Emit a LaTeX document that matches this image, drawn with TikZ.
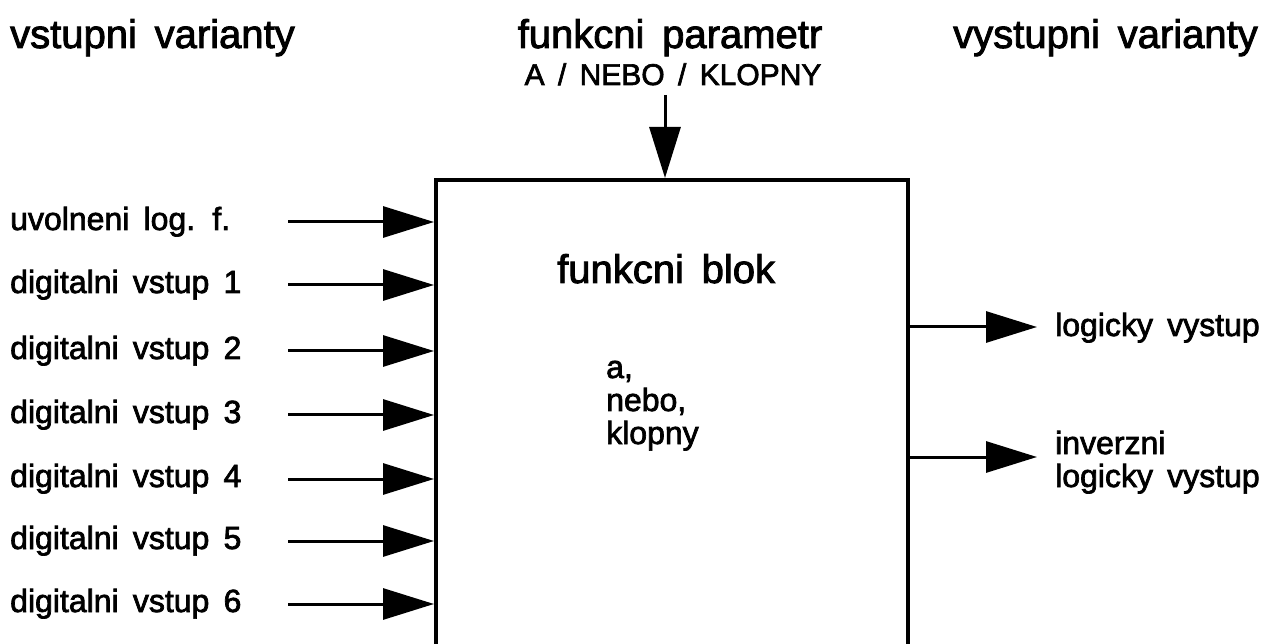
\documentclass[tikz,border=0pt]{standalone}
\usepackage{fontspec}
\setmainfont{Liberation Sans}[WordSpace=1.6, BoldFont=Liberation Sans, BoldFeatures={FakeBold=2.2}]
\usetikzlibrary{arrows.meta,positioning}

\tikzset{
	blok/.style={draw, line width=4pt, minimum width=472pt, minimum height=480pt, inner sep=0pt},
	titel/.style={inner sep=0pt, font=\fontsize{40}{48}\selectfont\bfseries},
	popis/.style={inner sep=0pt, font=\fontsize{30}{36}\selectfont\bfseries},
	vstup/.style={inner sep=0pt, anchor=base west, font=\fontsize{32}{33}\selectfont\bfseries, align=left},
	sipka/.style={line width=3pt, -{Triangle[length=51pt, width=31pt]}}
}

\begin{document}
\begin{tikzpicture}[x=1pt, y=-1pt]
			%%%%% START %%%%%
			
			\useasboundingbox (0, 0) rectangle (1270, 644);
			
			\node[blok] (blok) at (672, 420) {};
			
			\node[titel, anchor=base west] (vstupy) at (10, 48) {vstupni varianty};
			\node[titel, anchor=base] (param) at (670, 48) {funkcni parametr};
			\node[popis, anchor=base] (volba) at (673, 85) {A / NEBO / KLOPNY};
			\node[titel, anchor=base east] (vystupy) at (1258, 48) {vystupni varianty};
			
			\node[titel, anchor=base west] (nazev) at (557, 283) {funkcni blok};
			\node[vstup] (funkce) at (606, 444) {a,\\nebo,\\klopny};
			
			\coordinate (p) at (665, 95);
			\draw[sipka] (p) -- (blok.north -| p);
			
			\node[vstup] (uvol) at (10, 230) {uvolneni log. f.};
			\node[vstup] (dv1) at (10, 293) {digitalni vstup 1};
			\node[vstup] (dv2) at (10, 359) {digitalni vstup 2};
			\node[vstup] (dv3) at (10, 423) {digitalni vstup 3};
			\node[vstup] (dv4) at (10, 487) {digitalni vstup 4};
			\node[vstup] (dv5) at (10, 549) {digitalni vstup 5};
			\node[vstup] (dv6) at (10, 612) {digitalni vstup 6};
			
			\coordinate (s0) at (288, 222);
			\coordinate (s1) at (288, 285);
			\coordinate (s2) at (288, 351);
			\coordinate (s3) at (288, 415);
			\coordinate (s4) at (288, 479);
			\coordinate (s5) at (288, 541);
			\coordinate (s6) at (288, 604);
			
			\draw[sipka] (s0) -- (blok.west |- s0);
			\draw[sipka] (s1) -- (blok.west |- s1);
			\draw[sipka] (s2) -- (blok.west |- s2);
			\draw[sipka] (s3) -- (blok.west |- s3);
			\draw[sipka] (s4) -- (blok.west |- s4);
			\draw[sipka] (s5) -- (blok.west |- s5);
			\draw[sipka] (s6) -- (blok.west |- s6);
			
			\node[vstup] (log) at (1055, 336) {logicky vystup};
			\node[vstup] (inv) at (1055, 487) {inverzni\\logicky vystup};
			
			\coordinate (o1) at (1037, 327);
			\coordinate (o2) at (1037, 457);
			\draw[sipka] (blok.east |- o1) -- (o1);
			\draw[sipka] (blok.east |- o2) -- (o2);
			
			%%%%% END %%%%%
\end{tikzpicture}
\end{document}
